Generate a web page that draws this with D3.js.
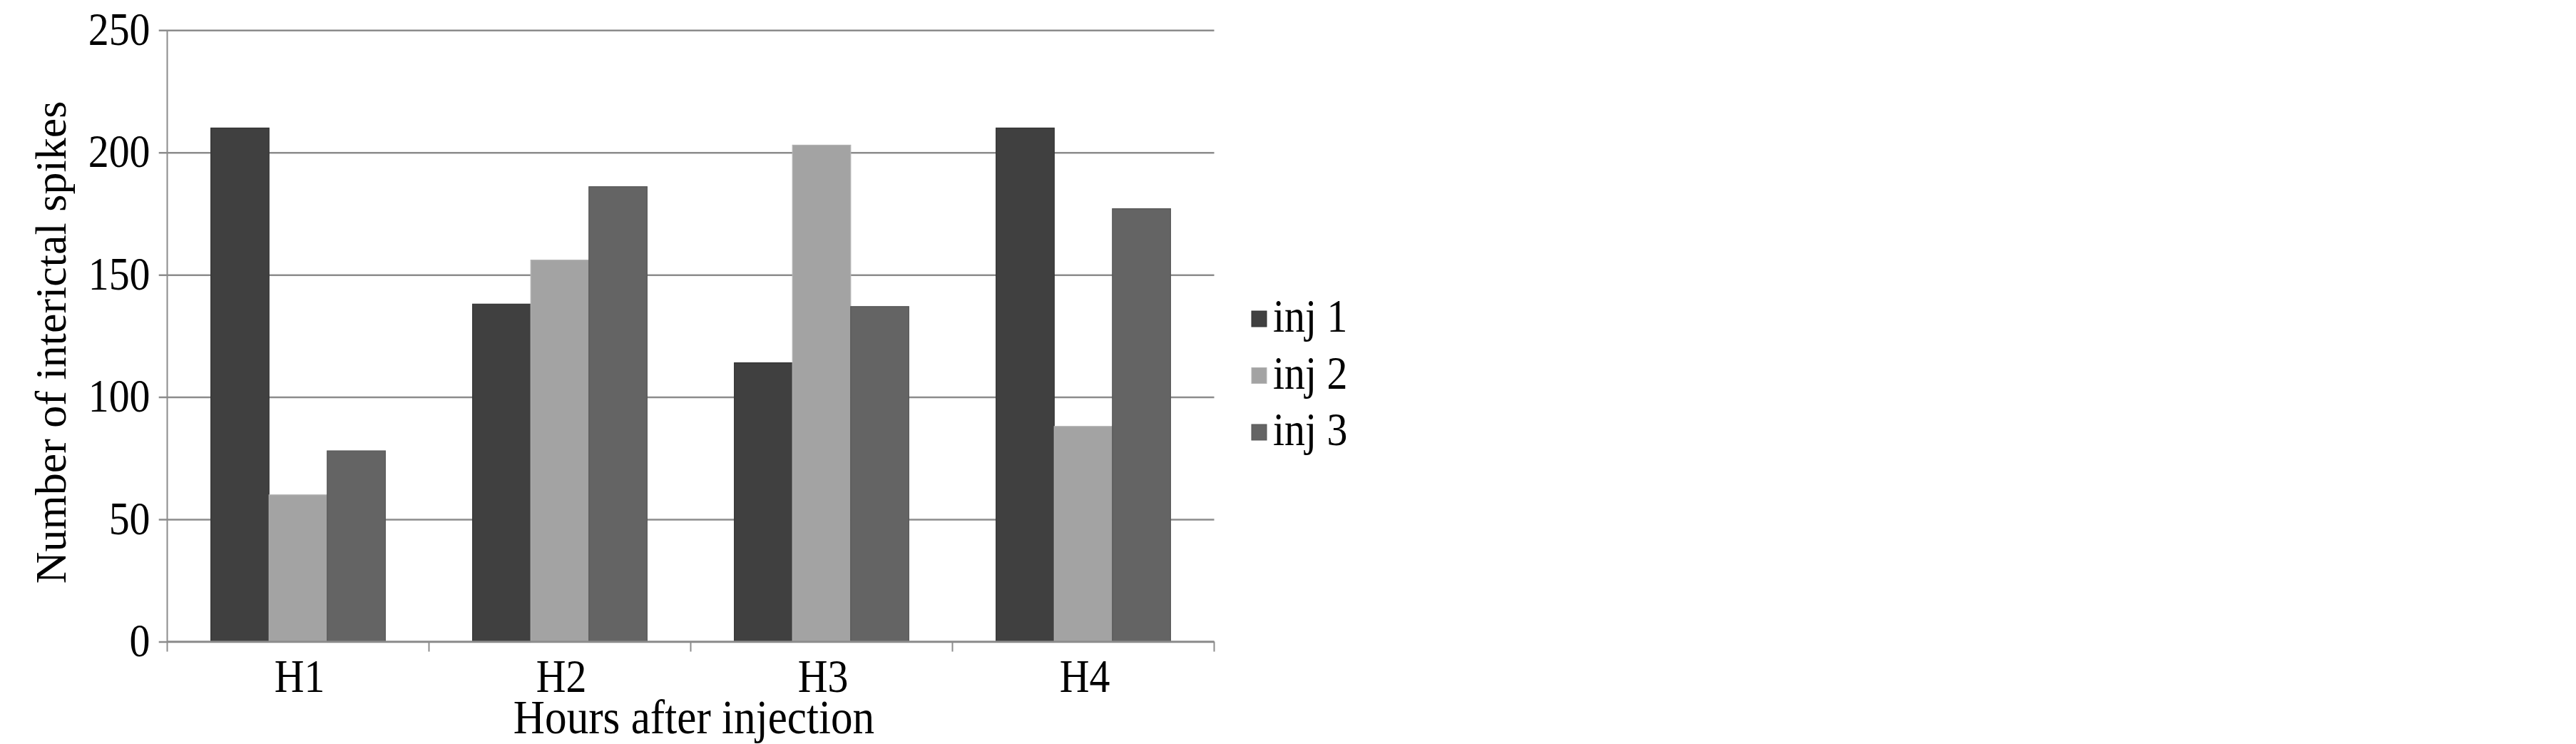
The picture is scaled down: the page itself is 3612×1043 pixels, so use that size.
<!DOCTYPE html>
<html>
<head>
<meta charset="utf-8">
<script src="https://cdn.jsdelivr.net/npm/d3@7"></script>
<style>
  body { margin: 0; background: #fff; }
  text { font-family: "Liberation Serif", "Times New Roman", serif; fill: #000; }
</style>
</head>
<body>
<div id="chart"></div>
<script>
// data
const hours = ["H1", "H2", "H3", "H4"];
const seriesNames = ["inj 1", "inj 2", "inj 3"];
const inj1 = [210, 138, 114, 210];
const inj2 = [60, 156, 203, 88];
const inj3 = [78, 186, 137, 177];
const yTicks = [0, 50, 100, 150, 200, 250];

const barColors = ["#404040", "#a3a3a3", "#646464"];
const edgeColors = ["#333333", "#b3b3b3", "#565656"];
const gridColor = "#8c8c8c";

const W = 3612, H = 1043;
const plot = { left: 234.5, right: 1702.5, top: 42.3, bottom: 899.5 };
const squeeze = 0.89; // the source text is a bit narrow

const svg = d3.select("#chart").append("svg")
  .attr("width", W).attr("height", H)
  .attr("viewBox", [0, 0, W, H]);
svg.append("rect").attr("width", W).attr("height", H).attr("fill", "#fff");

const x = d3.scaleBand().domain(hours).range([plot.left, plot.right]).paddingInner(0).paddingOuter(0);
const xs = d3.scaleBand().domain(seriesNames).range([0, x.bandwidth()]).paddingInner(0).paddingOuter(0.75);
const y = d3.scaleLinear().domain([0, 250]).range([plot.bottom, plot.top]);

const rows = hours.map((h, i) => ({ hour: h, values: [inj1[i], inj2[i], inj3[i]] }));

// y axis: gridlines + labels
const yAxis = svg.append("g")
  .attr("transform", `translate(${plot.left},0)`)
  .call(d3.axisLeft(y).tickValues(yTicks).tickSize(0).tickPadding(0));
yAxis.select(".domain").remove();
yAxis.selectAll(".tick line")
  .attr("x1", -11.8).attr("x2", plot.right - plot.left)
  .attr("stroke", gridColor).attr("stroke-width", 2.5);
yAxis.selectAll(".tick text")
  .attr("x", 0).attr("dy", "0.31em")
  .attr("transform", `translate(-24,0) scale(${squeeze},1)`)
  .attr("font-size", 65).attr("fill", "#000");

// bars
const groups = svg.append("g").selectAll("g")
  .data(rows).join("g")
  .attr("transform", d => `translate(${x(d.hour)},0)`);
groups.selectAll("rect")
  .data(d => d.values.map((v, k) => ({ name: seriesNames[k], value: v, k })))
  .join("rect")
  .attr("x", d => xs(d.name))
  .attr("y", d => y(d.value))
  .attr("width", xs.bandwidth())
  .attr("height", d => y(0) - y(d.value))
  .attr("fill", d => barColors[d.k])
  .attr("stroke", d => edgeColors[d.k])
  .attr("stroke-width", 1.2);

// y axis line
svg.append("line")
  .attr("x1", plot.left).attr("x2", plot.left)
  .attr("y1", plot.top).attr("y2", plot.bottom)
  .attr("stroke", gridColor).attr("stroke-width", 2);

// x axis line, ticks at category boundaries, labels
svg.append("line")
  .attr("x1", plot.left).attr("x2", plot.right)
  .attr("y1", plot.bottom).attr("y2", plot.bottom)
  .attr("stroke", gridColor).attr("stroke-width", 2.5);
const bounds = hours.map(h => x(h)).concat([x.range()[1]]);
svg.append("g").selectAll("line")
  .data(bounds).join("line")
  .attr("x1", d => d).attr("x2", d => d)
  .attr("y1", plot.bottom).attr("y2", plot.bottom + 14)
  .attr("stroke", gridColor).attr("stroke-width", 2);

const xAxis = svg.append("g")
  .attr("transform", `translate(0,${plot.bottom})`)
  .call(d3.axisBottom(x).tickSize(0).tickPadding(0));
xAxis.select(".domain").remove();
xAxis.selectAll(".tick text")
  .attr("y", 0).attr("dy", 0)
  .attr("transform", `translate(2,70.5) scale(${squeeze},1)`)
  .attr("font-size", 65).attr("fill", "#000");

// axis titles
svg.append("text")
  .attr("transform", `translate(973,1028) scale(0.9,1)`)
  .attr("text-anchor", "middle")
  .attr("font-size", 68)
  .text("Hours after injection");

svg.append("text")
  .attr("transform", "translate(92,480) rotate(-90)")
  .attr("text-anchor", "middle")
  .attr("font-size", 62)
  .text("Number of interictal spikes");

// legend
const legend = svg.append("g").attr("transform", "translate(1755,436)");
const item = legend.selectAll("g")
  .data(seriesNames).join("g")
  .attr("transform", (d, i) => `translate(0,${i * 79.5})`);
item.append("rect")
  .attr("width", 21).attr("height", 22)
  .attr("fill", (d, i) => barColors[i])
  .attr("stroke", (d, i) => edgeColors[i]).attr("stroke-width", 1);
item.append("text")
  .attr("transform", `translate(30,29) scale(${squeeze},1)`)
  .attr("font-size", 65)
  .text(d => d);
</script>
</body>
</html>
